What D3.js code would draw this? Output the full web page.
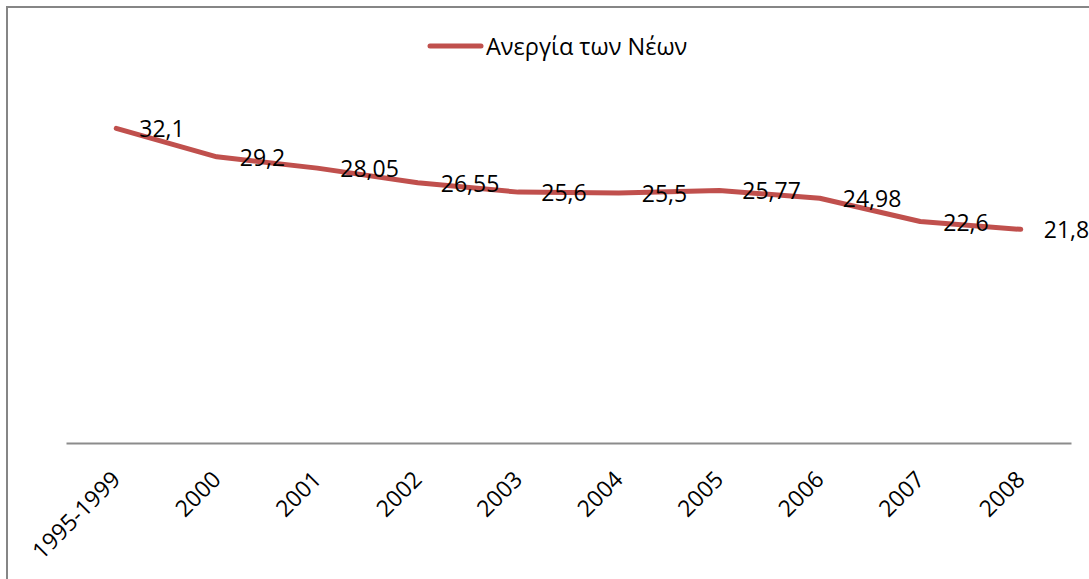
<!DOCTYPE html>
<html>
<head>
<meta charset="utf-8">
<script src="https://cdn.jsdelivr.net/npm/d3@7"></script>
<style>
  html, body { margin: 0; padding: 0; background: #fff; }
  svg { display: block; }
  text { font-family: "Open Sans", "DejaVu Sans", sans-serif; fill: #000; }
</style>
</head>
<body>
<svg id="chart" width="1089" height="579"></svg>
<script>
const categories = ["1995-1999", "2000", "2001", "2002", "2003", "2004", "2005", "2006", "2007", "2008"];
const values = [32.1, 29.2, 28.05, 26.55, 25.6, 25.5, 25.77, 24.98, 22.6, 21.8];
const valueLabels = ["32,1", "29,2", "28,05", "26,55", "25,6", "25,5", "25,77", "24,98", "22,6", "21,8"];
const seriesName = "Ανεργία των Νέων";

const W = 1089, H = 579;
const plot = { left: 66, right: 1071, top: 100, bottom: 443 };
const lineColor = "#C0504D";

const svg = d3.select("#chart");

svg.append("rect").attr("width", W).attr("height", H).attr("fill", "#fff");
// chart frame (extends beyond the visible area on right and bottom)
svg.append("rect")
  .attr("x", 7).attr("y", 7).attr("width", 1200).attr("height", 700)
  .attr("fill", "none").attr("stroke", "#868686").attr("stroke-width", 2);

const x = d3.scalePoint().domain(categories).range([plot.left, plot.right]).padding(0.5);
const y = d3.scaleLinear().domain([0, 35]).range([plot.bottom, plot.top]);

// x axis
const xAxis = svg.append("g")
  .attr("transform", `translate(0,${plot.bottom})`)
  .call(d3.axisBottom(x).tickSize(0).tickSizeOuter(0));
xAxis.select(".domain").attr("stroke", "#8c8c8c").attr("stroke-width", 2);
xAxis.selectAll(".tick text")
  .attr("x", 0).attr("y", 0).attr("dy", 0)
  .attr("text-anchor", "end")
  .attr("transform", "translate(5,38) rotate(-45)")
  .style("font-size", "23px")
  .style("font-family", "'Open Sans', sans-serif")
  .attr("fill", "#000");

// line
const data = categories.map((c, i) => ({ c, v: values[i], l: valueLabels[i] }));
const line = d3.line().x(d => x(d.c)).y(d => y(d.v));
svg.append("path")
  .datum(data)
  .attr("d", line)
  .attr("fill", "none")
  .attr("stroke", lineColor)
  .attr("stroke-width", 5)
  .attr("stroke-linejoin", "round")
  .attr("stroke-linecap", "round");

// data labels
svg.append("g").selectAll("text")
  .data(data)
  .join("text")
  .attr("x", d => x(d.c) + 23)
  .attr("y", d => y(d.v) + 9)
  .style("font-size", "23px")
  .text(d => d.l);

// legend
const lg = svg.append("g");
lg.append("line")
  .attr("x1", 430).attr("x2", 481).attr("y1", 46).attr("y2", 46)
  .attr("stroke", lineColor).attr("stroke-width", 5).attr("stroke-linecap", "round");
lg.append("text")
  .attr("x", 486).attr("y", 55)
  .style("font-size", "23.5px")
  .text(seriesName);
</script>
</body>
</html>
